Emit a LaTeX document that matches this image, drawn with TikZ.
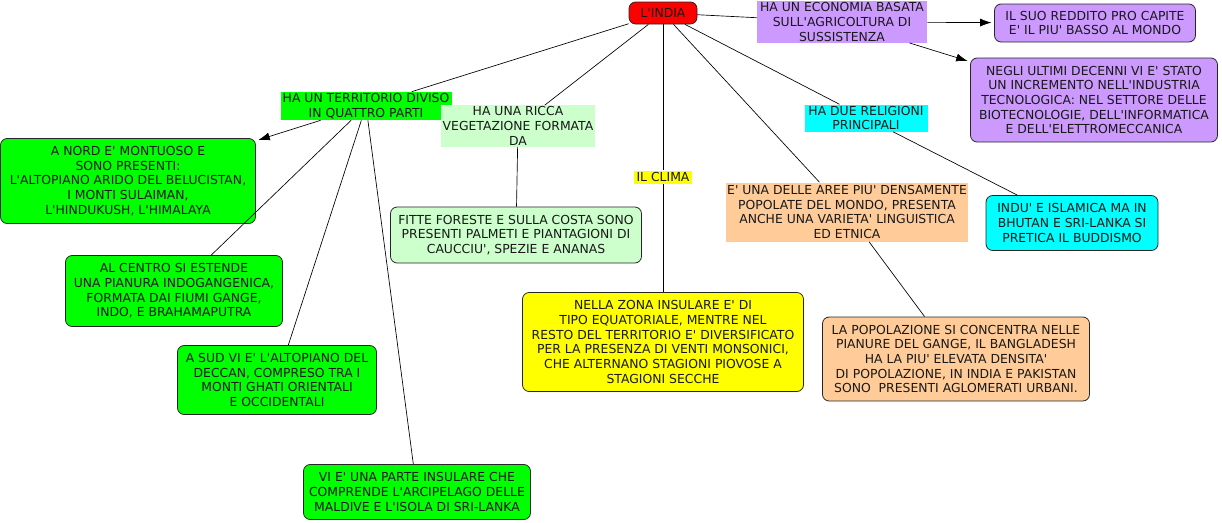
\documentclass[tikz,border=0pt]{standalone}
\usepackage{fontspec}
\newfontfamily\vfont{DejaVu Sans}
\usetikzlibrary{arrows.meta}
\definecolor{rosso}{HTML}{FF0000}
\definecolor{viola}{HTML}{CC99FF}
\definecolor{verde}{HTML}{00FF00}
\definecolor{verdino}{HTML}{CCFFCC}
\definecolor{giallo}{HTML}{FFFF00}
\definecolor{ciano}{HTML}{00FFFF}
\definecolor{pesca}{HTML}{FFCC99}
\tikzstyle{txt}=[align=center, inner sep=1pt, text=black!90, font=\vfont\fontsize{9.3}{11}\selectfont]
\tikzstyle{rbox}=[txt, draw=black!85, line width=0.6pt, rounded corners=5pt]
\tikzstyle{flat}=[txt]
\tikzstyle{link}=[line width=0.5pt]
\tikzstyle{arrowlink}=[link, -{Latex[length=8.5pt,width=6pt]}, shorten >=2pt]
\tikzset{wh/.style 2 args={minimum width=#1*0.75pt, minimum height=#2*0.75pt}}

\begin{document}
\begin{tikzpicture}[x=0.75pt, y=-0.75pt]
  \useasboundingbox (0,0) rectangle (1222,522);
  % centro della mappa
  \node[rbox, fill=rosso, wh={68}{22}] (india) at (663,13) {L'INDIA};
  % economia
  \node[flat, fill=viola, wh={170}{40}] (economia) at (842,22) {HA UN ECONOMIA BASATA\\SULL'AGRICOLTURA DI\\SUSSISTENZA};
  \node[rbox, fill=viola, wh={201}{38}] (reddito) at (1095,23) {IL SUO REDDITO PRO CAPITE\\E' IL PIU' BASSO AL MONDO};
  \node[rbox, fill=viola, wh={247}{84}] (negli) at (1094,100) {NEGLI ULTIMI DECENNI VI E' STATO\\UN INCREMENTO NELL'INDUSTRIA\\TECNOLOGICA: NEL SETTORE DELLE\\BIOTECNOLOGIE, DELL'INFORMATICA\\E DELL'ELETTROMECCANICA};
  % territorio
  \node[flat, fill=verde, wh={171}{28}] (territorio) at (366,106) {HA UN TERRITORIO DIVISO\\IN QUATTRO PARTI};
  \node[rbox, fill=verde, wh={255}{85}] (nord) at (128,181) {A NORD E' MONTUOSO E\\SONO PRESENTI:\\L'ALTOPIANO ARIDO DEL BELUCISTAN,\\I MONTI SULAIMAN,\\L'HINDUKUSH, L'HIMALAYA};
  \node[rbox, fill=verde, wh={217}{71}] (centro) at (174,291) {AL CENTRO SI ESTENDE\\UNA PIANURA INDOGANGENICA,\\FORMATA DAI FIUMI GANGE,\\INDO, E BRAHAMAPUTRA};
  \node[rbox, fill=verde, wh={199}{69}] (sud) at (277,380) {A SUD VI E' L'ALTOPIANO DEL\\DECCAN, COMPRESO TRA I\\MONTI GHATI ORIENTALI\\E OCCIDENTALI};
  \node[rbox, fill=verde, wh={227}{55}] (insulare) at (417,492) {VI E' UNA PARTE INSULARE CHE\\COMPRENDE L'ARCIPELAGO DELLE\\MALDIVE E L'ISOLA DI SRI-LANKA};
  % vegetazione
  \node[flat, fill=verdino, wh={152}{40}] (vegetazione) at (518,126) {HA UNA RICCA\\VEGETAZIONE FORMATA\\DA};
  \node[rbox, fill=verdino, wh={251}{56}] (foreste) at (516,235) {FITTE FORESTE E SULLA COSTA SONO\\PRESENTI PALMETI E PIANTAGIONI DI\\CAUCCIU', SPEZIE E ANANAS};
  % clima
  \node[flat, fill=giallo, wh={58}{13}] (clima) at (663,177) {IL CLIMA};
  \node[rbox, fill=giallo, wh={281}{99}] (climatesto) at (663,342) {NELLA ZONA INSULARE E' DI\\TIPO EQUATORIALE, MENTRE NEL\\RESTO DEL TERRITORIO E' DIVERSIFICATO\\PER LA PRESENZA DI VENTI MONSONICI,\\CHE ALTERNANO STAGIONI PIOVOSE A\\STAGIONI SECCHE};
  % religioni
  \node[flat, fill=ciano, wh={123}{27}] (religioni) at (866,118) {HA DUE RELIGIONI\\PRINCIPALI};
  \node[rbox, fill=ciano, wh={172}{55}] (indu) at (1072,223) {INDU' E ISLAMICA MA IN\\BHUTAN E SRI-LANKA SI\\PRETICA IL BUDDISMO};
  % popolazione
  \node[flat, fill=pesca, wh={238}{59}] (aree) at (847,212) {E' UNA DELLE AREE PIU' DENSAMENTE\\POPOLATE DEL MONDO, PRESENTA\\ANCHE UNA VARIETA' LINGUISTICA\\ED ETNICA};
  \node[rbox, fill=pesca, wh={267}{84}] (popolazione) at (956,359) {LA POPOLAZIONE SI CONCENTRA NELLE\\PIANURE DEL GANGE, IL BANGLADESH\\HA LA PIU' ELEVATA DENSITA'\\DI POPOLAZIONE, IN INDIA E PAKISTAN\\SONO \ PRESENTI AGLOMERATI URBANI.};
  % collegamenti
  \foreach \a/\b in {india/economia, india/territorio, india/vegetazione, india/clima, india/aree, india/religioni,
                     territorio/centro, territorio/sud, territorio/insulare, vegetazione/foreste,
                     clima/climatesto, religioni/indu, aree/popolazione}
    \draw[link] (\a) -- (\b);
  \foreach \a/\b in {economia/reddito, economia/negli, territorio/nord}
    \draw[arrowlink] (\a) -- (\b);
\end{tikzpicture}
\end{document}
